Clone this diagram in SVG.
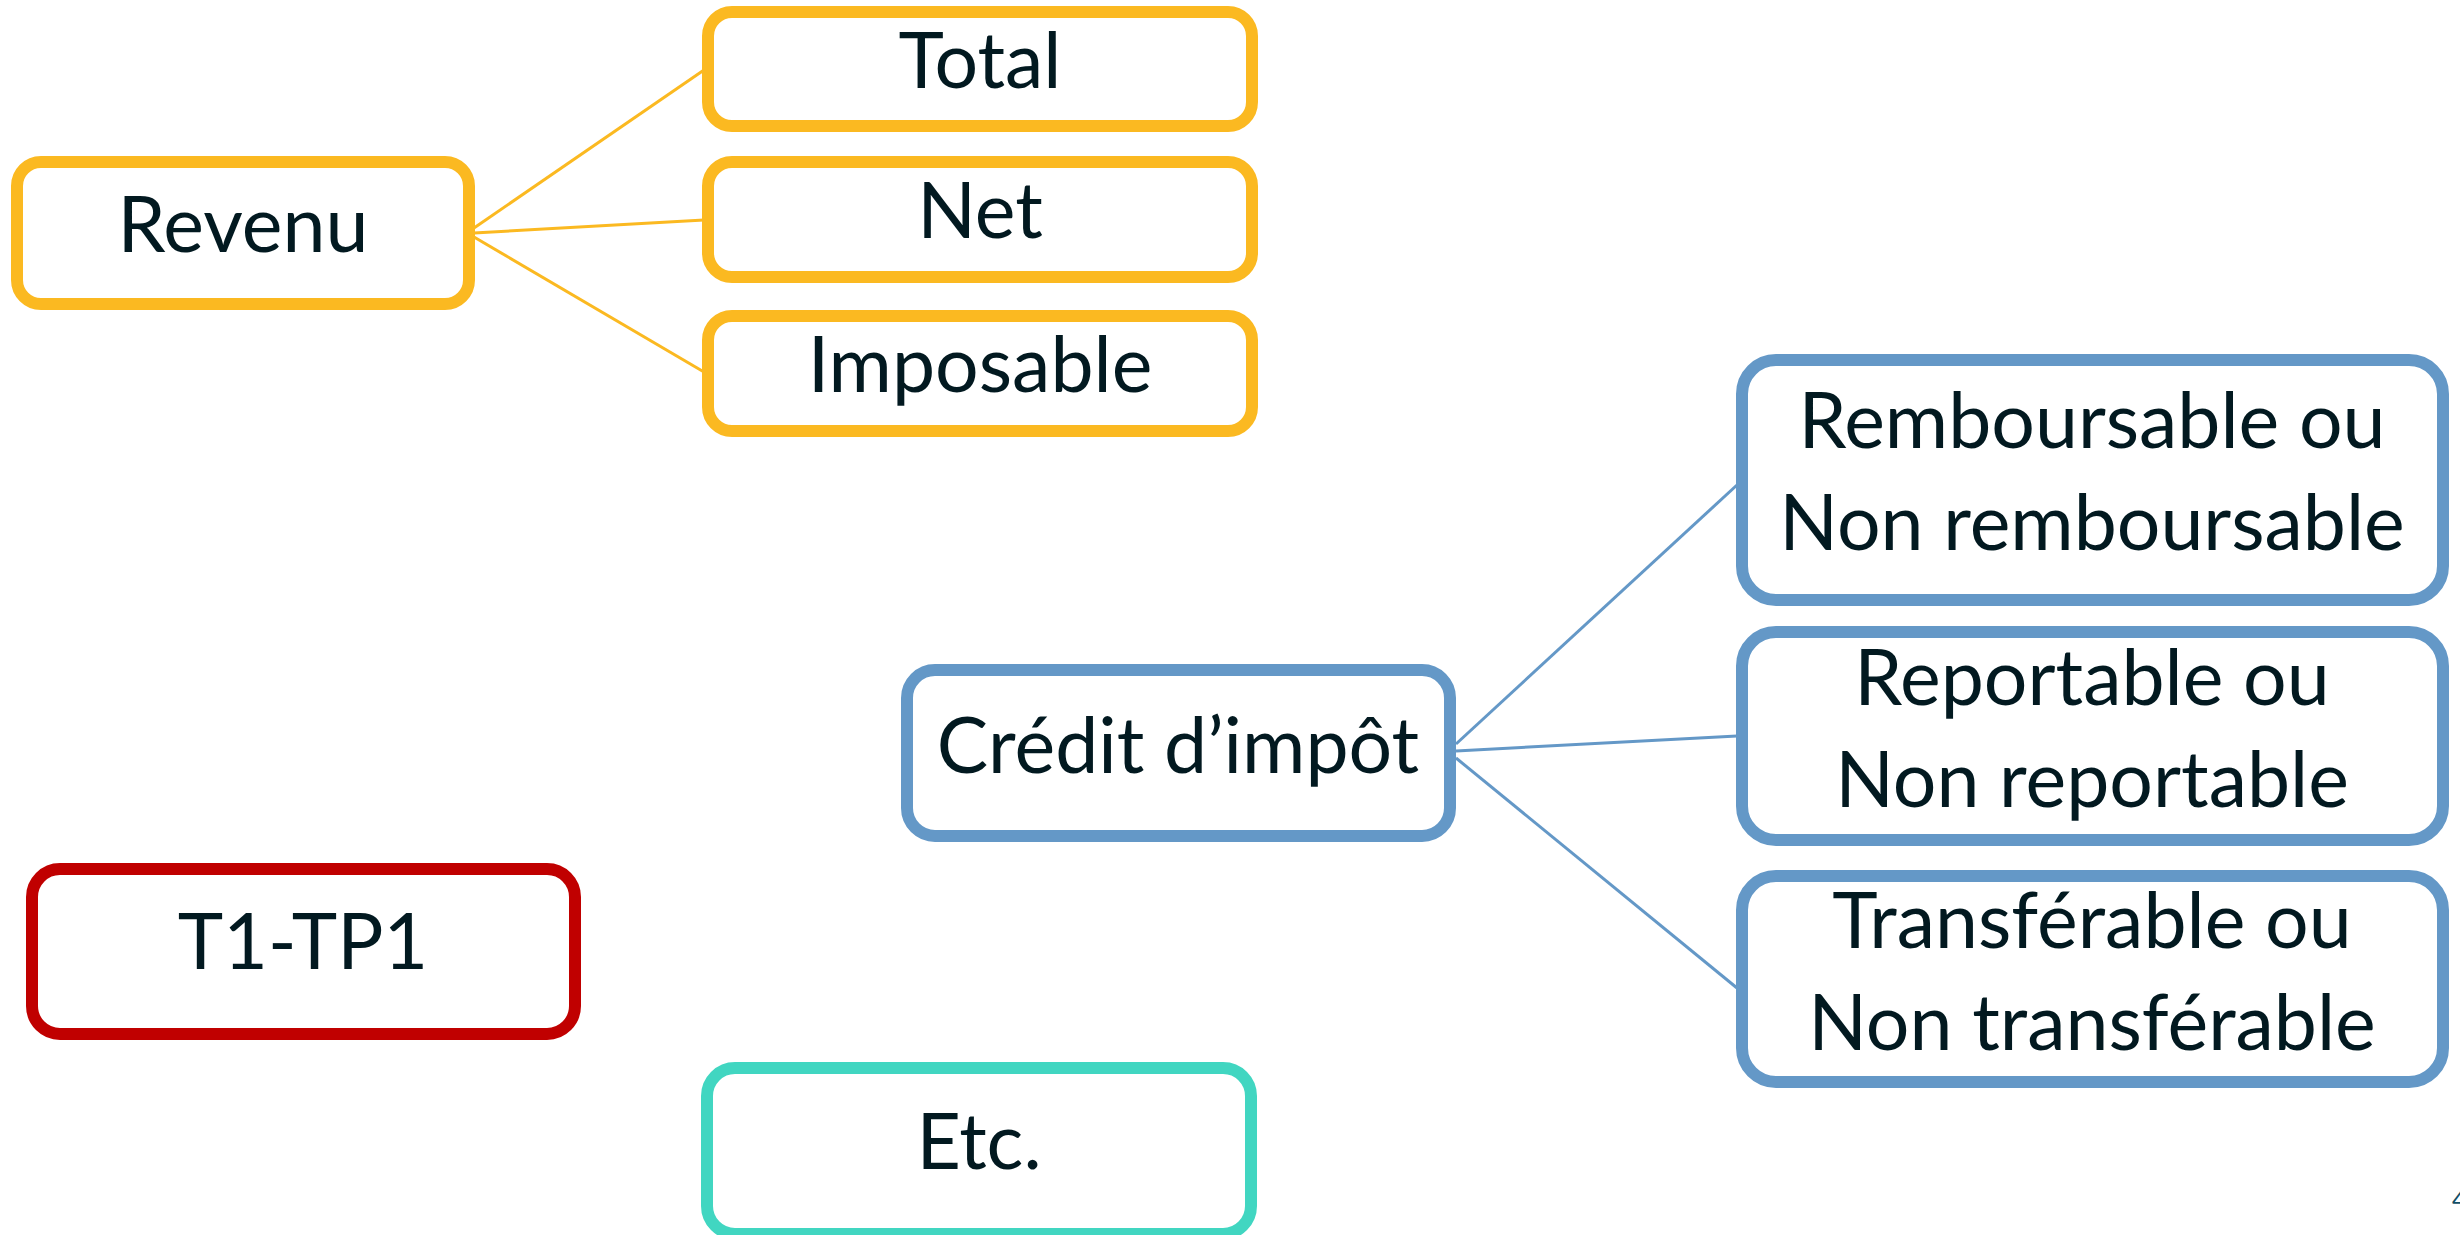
<svg xmlns="http://www.w3.org/2000/svg" width="2460" height="1235" viewBox="0 0 2460 1235">
<style>
.box{fill:#fff;stroke-width:12}
.y{stroke:#FBB921}
.b{stroke:#6498C7}
.r{stroke:#C00000}
.t{stroke:#41D6C1}
.lbl{font-family:Lato,"Liberation Sans",sans-serif;font-size:77px;fill:#021920;text-anchor:middle}
.cy{stroke:#FBB921;stroke-width:3;fill:none}
.cb{stroke:#6498C7;stroke-width:3;fill:none}
</style>
<rect width="2460" height="1235" fill="#fff"/>
<g id="connectors">
<line class="cy" x1="474" y1="228" x2="704" y2="70"/>
<line class="cy" x1="474" y1="233" x2="704" y2="220"/>
<line class="cy" x1="474" y1="237" x2="704" y2="372"/>
<line class="cb" x1="1456" y1="744" x2="1737" y2="485"/>
<line class="cb" x1="1456" y1="751" x2="1737" y2="736"/>
<line class="cb" x1="1456" y1="758" x2="1737" y2="988"/>
</g>
<g id="revenu"><rect class="box y" x="17" y="162" width="452" height="142" rx="24"/><text class="lbl" x="243" y="252">Revenu</text></g>
<g id="total"><rect class="box y" x="708" y="12" width="544" height="114" rx="24"/><text class="lbl" x="980" y="88">Total</text></g>
<g id="net"><rect class="box y" x="708" y="162" width="544" height="115" rx="24"/><text class="lbl" x="980" y="238">Net</text></g>
<g id="imposable"><rect class="box y" x="708" y="316" width="544" height="115" rx="24"/><text class="lbl" x="980" y="392">Imposable</text></g>
<g id="credit"><rect class="box b" x="907" y="670" width="543" height="166" rx="28"/><text class="lbl" x="1178" y="773">Crédit d’impôt</text></g>
<g id="remboursable"><rect class="box b" x="1742" y="360" width="701" height="240" rx="34"/><text class="lbl" x="2092" y="448">Remboursable ou</text><text class="lbl" x="2092" y="550">Non remboursable</text></g>
<g id="reportable"><rect class="box b" x="1742" y="632" width="701" height="208" rx="34"/><text class="lbl" x="2092" y="705">Reportable ou</text><text class="lbl" x="2092" y="807">Non reportable</text></g>
<g id="transferable"><rect class="box b" x="1742" y="876" width="701" height="206" rx="34"/><text class="lbl" x="2092" y="948">Transférable ou</text><text class="lbl" x="2092" y="1050">Non transférable</text></g>
<g id="t1tp1"><rect class="box r" x="32" y="869" width="543" height="165" rx="28"/><text class="lbl" x="303" y="969">T1-TP1</text></g>
<g id="etc"><rect class="box t" x="707" y="1068" width="544" height="166" rx="28"/><text class="lbl" x="979" y="1169">Etc.</text></g>
<text x="2452" y="1208" font-family="Lato,'Liberation Sans',sans-serif" font-size="24" fill="#124E66">4</text>
</svg>
